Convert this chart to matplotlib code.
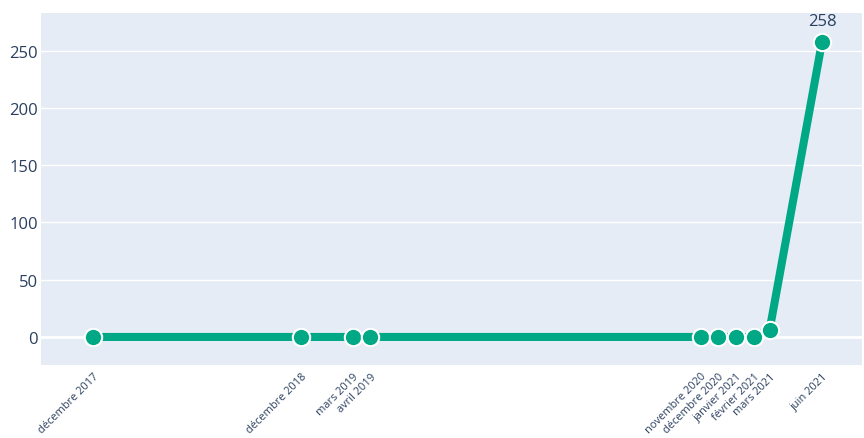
import datetime as dt
import matplotlib
matplotlib.use("Agg")
import matplotlib.pyplot as plt

# data
months = [
    dt.date(2017, 12, 1), dt.date(2018, 12, 1), dt.date(2019, 3, 1), dt.date(2019, 4, 1),
    dt.date(2020, 11, 1), dt.date(2020, 12, 1), dt.date(2021, 1, 1), dt.date(2021, 2, 1),
    dt.date(2021, 3, 1), dt.date(2021, 6, 1),
]
labels = [
    "décembre 2017", "décembre 2018", "mars 2019", "avril 2019",
    "novembre 2020", "décembre 2020", "janvier 2021", "février 2021",
    "mars 2021", "juin 2021",
]
values = [0, 0, 0, 0, 0, 0, 0, 0, 6, 258]

plt.rcParams['font.family'] = ['Open Sans', 'DejaVu Sans']
text_color = "#2a3f5f"
line_color = "#00a886"

fig = plt.figure(figsize=(8.64, 4.39), dpi=100)
ax = fig.add_axes([41 / 864, (439 - 366) / 439, (862 - 41) / 864, (366 - 14) / 439])
ax.set_facecolor("#e5ecf6")

ax.plot(months, values, color=line_color, linewidth=5.8, solid_capstyle="butt",
        marker="o", markersize=12.5, markerfacecolor=line_color,
        markeredgecolor="white", markeredgewidth=1.5, zorder=3)

# label on the last point
ax.annotate(str(values[-1]), (months[-1], values[-1]), xytext=(0, 9),
            textcoords="offset points", ha="center", va="bottom",
            fontsize=12, color=text_color)

ax.set_xlim(dt.date(2017, 9, 1), dt.date(2021, 8, 10))
ax.set_ylim(-24.5, 283)

ax.set_xticks(months)
ax.set_xticklabels(labels, rotation=45, ha="right", va="top",
                   rotation_mode="anchor", fontsize=7.9, color=text_color)
ax.set_yticks([0, 50, 100, 150, 200, 250])
ax.tick_params(axis="y", labelsize=12, colors=text_color, length=0, pad=2)
ax.tick_params(axis="x", length=0, pad=4)
for lab in ax.get_yticklabels():
    lab.set_color(text_color)

ax.grid(axis="y", color="white", linewidth=1)
ax.axhline(0, color="white", linewidth=2, zorder=1)
ax.set_axisbelow(True)
for s in ax.spines.values():
    s.set_visible(False)

fig.savefig("out.png", dpi=100)
